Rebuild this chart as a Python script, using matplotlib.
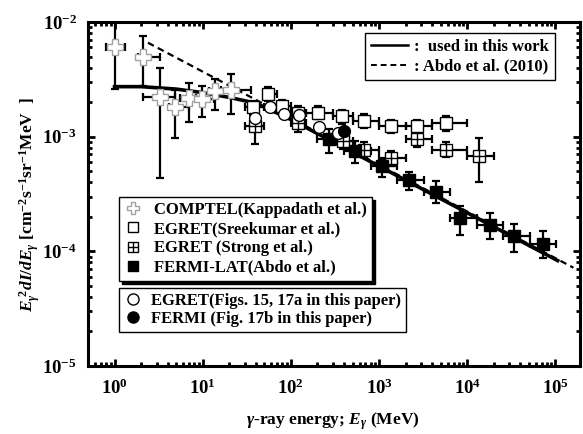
import matplotlib
matplotlib.use("Agg")
import matplotlib.pyplot as plt
from matplotlib.lines import Line2D
import numpy as np

plt.rcParams['font.family'] = ['Liberation Serif', 'DejaVu Serif']
plt.rcParams['font.weight'] = 'bold'
plt.rcParams['mathtext.fontset'] = 'custom'
plt.rcParams['mathtext.rm'] = 'Liberation Serif:bold'
plt.rcParams['mathtext.bf'] = 'Liberation Serif:bold'
plt.rcParams['mathtext.it'] = 'Liberation Serif:italic:bold'

# ---------------- data ----------------
comptel_x = [1.0, 2.13, 3.24, 4.88, 6.9, 9.77, 13.8, 20.7]
comptel_y = [6.1e-3, 4.99e-3, 2.24e-3, 1.81e-3, 2.17e-3, 2.14e-3, 2.51e-3, 2.53e-3]
comptel_xlo = [0.79, 1.84, 2.13, 4.1, 5.5, 8.4, 11.8, 16.1]
comptel_xhi = [1.33, 3.24, 4.9, 6.9, 8.4, 13.6, 16.1, 35.5]
comptel_ylo = [2.6e-3, 2.77e-3, 4.4e-4, 9.7e-4, 1.33e-3, 1.47e-3, 1.72e-3, 1.57e-3]
comptel_yhi = [1.2e-2, 7.6e-3, 4.0e-3, 2.56e-3, 2.96e-3, 2.77e-3, 3.19e-3, 3.53e-3]

sreek_x = [37, 55.7, 79, 120, 202, 378, 683, 1371, 2704, 5767]
sreek_y = [1.80e-3, 2.35e-3, 1.84e-3, 1.62e-3, 1.62e-3, 1.50e-3, 1.38e-3, 1.23e-3, 1.23e-3, 1.31e-3]
sreek_xlo = [30, 50, 70, 100, 150, 300, 500, 1000, 2000, 4000]
sreek_xhi = [50, 70, 100, 150, 300, 500, 1000, 2000, 4000, 10000]
sreek_ylo = [1.55e-3, 2.05e-3, 1.6e-3, 1.42e-3, 1.43e-3, 1.30e-3, 1.20e-3, 1.08e-3, 1.08e-3, 1.12e-3]
sreek_yhi = [2.05e-3, 2.7e-3, 2.1e-3, 1.84e-3, 1.84e-3, 1.70e-3, 1.58e-3, 1.40e-3, 1.40e-3, 1.50e-3]

strong_x = [39.4, 120, 387, 683, 1371, 2704, 5767, 13700]
strong_y = [1.23e-3, 1.31e-3, 9.1e-4, 7.7e-4, 6.5e-4, 9.5e-4, 7.6e-4, 6.84e-4]
strong_xlo = [30, 100, 300, 500, 1000, 2000, 4000, 10000]
strong_xhi = [50, 150, 500, 1000, 2000, 4000, 10000, 20000]
strong_ylo = [8.7e-4, 1.1e-3, 7.8e-4, 6.6e-4, 5.6e-4, 8.2e-4, 6.7e-4, 4.0e-4]
strong_yhi = [1.46e-3, 1.5e-3, 1.05e-3, 8.9e-4, 7.5e-4, 1.08e-3, 8.9e-4, 9.7e-4]

fermi_x = [267, 540, 1083, 2170, 4440, 8370, 17900, 34300, 73100]
fermi_y = [9.6e-4, 7.55e-4, 5.6e-4, 4.2e-4, 3.28e-4, 1.94e-4, 1.68e-4, 1.36e-4, 1.17e-4]
fermi_xlo = [200, 400, 800, 1600, 3200, 6400, 12800, 25600, 51200]
fermi_xhi = [400, 800, 1600, 3200, 6400, 12800, 25600, 51200, 102400]
fermi_ylo = [7.2e-4, 5.9e-4, 4.47e-4, 3.41e-4, 2.65e-4, 1.38e-4, 1.27e-4, 9.9e-5, 8.8e-5]
fermi_yhi = [1.17e-3, 9.1e-4, 6.4e-4, 4.9e-4, 4.08e-4, 2.51e-4, 2.14e-4, 1.72e-4, 1.50e-4]

egret_paper_x = [38.7, 58.2, 82.5, 122, 211, 340]
egret_paper_y = [1.46e-3, 1.80e-3, 1.57e-3, 1.53e-3, 1.21e-3, 1.08e-3]

fermi_paper_x = [405]
fermi_paper_y = [1.12e-3]

model_x = [1.0, 2.0, 5.0, 10.0, 20.0, 40.0, 100.0, 1.06e5]
model_y = [2.73e-3, 2.73e-3, 2.6e-3, 2.42e-3, 2.2e-3, 1.96e-3, 1.41e-3, 8.3e-5]

abdo_x = [2.39, 1.6e5]
abdo_y = [6.6e-3, 7.2e-5]

# ---------------- figure ----------------
fig = plt.figure(figsize=(5.83, 4.34), dpi=100)
ax = fig.add_axes([88/583, 1-366/434, 492/583, 344/434])
ax.set_xscale('log')
ax.set_yscale('log')
ax.set_xlim(0.5, 1.9e5)
ax.set_ylim(1e-5, 1e-2)


def ebar(x, y, xlo, xhi, ylo, yhi):
    x = np.array(x); y = np.array(y)
    xerr = [x - np.array(xlo), np.array(xhi) - x]
    yerr = [y - np.array(ylo), np.array(yhi) - y]
    ax.errorbar(x, y, xerr=xerr, yerr=yerr, fmt='none', ecolor='black',
                elinewidth=1.6, capsize=3, capthick=1.6, zorder=2)

ebar(comptel_x, comptel_y, comptel_xlo, comptel_xhi, comptel_ylo, comptel_yhi)
ebar(sreek_x, sreek_y, sreek_xlo, sreek_xhi, sreek_ylo, sreek_yhi)
ebar(strong_x, strong_y, strong_xlo, strong_xhi, strong_ylo, strong_yhi)
ebar(fermi_x, fermi_y, fermi_xlo, fermi_xhi, fermi_ylo, fermi_yhi)

ax.plot(abdo_x, abdo_y, color='black', lw=1.6, ls=(0, (3, 2)), zorder=3)
ax.plot(model_x, model_y, color='black', lw=2.6, zorder=3)

ax.plot(comptel_x, comptel_y, ls='none', marker='P', ms=11, mfc='white',
        mec='#a0a0a0', mew=1.0, zorder=4)
ax.plot(sreek_x, sreek_y, ls='none', marker='s', ms=8, mfc='white',
        mec='black', mew=1.0, zorder=4)
ax.plot(strong_x, strong_y, ls='none', marker='s', ms=8, mfc='white',
        mec='black', mew=1.0, zorder=4)
ax.plot(strong_x, strong_y, ls='none', marker='+', ms=8, mec='black',
        mew=1.0, zorder=5)
ax.plot(fermi_x, fermi_y, ls='none', marker='s', ms=8, mfc='black',
        mec='black', zorder=4)
ax.plot(egret_paper_x, egret_paper_y, ls='none', marker='o', ms=8.5,
        mfc='white', mec='black', mew=1.0, zorder=6)
ax.plot(fermi_paper_x, fermi_paper_y, ls='none', marker='o', ms=8.5,
        mfc='black', mec='black', zorder=6)

# axes styling
for s in ax.spines.values():
    s.set_linewidth(2.2)
ax.tick_params(which='both', direction='in', top=True, right=True)
ax.tick_params(which='major', length=5, width=2, labelsize=13.5)
ax.tick_params(axis='x', which='major', pad=9)
ax.tick_params(axis='y', which='major', pad=8)
ax.tick_params(which='minor', length=3, width=2)
ax.set_xticks([1, 10, 100, 1e3, 1e4, 1e5])
ax.set_xticklabels([r'$10^{0}$', r'$10^{1}$', r'$10^{2}$', r'$10^{3}$',
                    r'$10^{4}$', r'$10^{5}$'])
ax.set_yticks([1e-5, 1e-4, 1e-3, 1e-2])
ax.set_yticklabels([r'$10^{-5}$', r'$10^{-4}$', r'$10^{-3}$', r'$10^{-2}$'])

ax.set_xlabel(r'$\gamma$-ray energy; $E_\gamma$ (MeV)', fontsize=12.5,
              fontweight='bold')
ax.xaxis.set_label_coords((333 - 88) / 492, -(410 - 366) / 344)
ax.set_ylabel(r'$E_\gamma^{\ 2}dI/dE_\gamma$ $\mathrm{[cm^{-2}s^{-1}sr^{-1}MeV\ \ ]}$',
              fontsize=12.5, fontweight='bold')
ax.yaxis.set_label_coords(-(88 - 43) / 492, (366 - 205) / 344)

LFONT = {'family': 'Liberation Serif', 'weight': 'bold', 'size': 12}

# legends
h1 = [Line2D([], [], color='black', lw=1.8),
      Line2D([], [], color='black', lw=1.4, ls=(0, (3, 2)))]
leg1 = ax.legend(h1, [':  used in this work', ': Abdo et al. (2010)'],
                 loc='upper right', bbox_to_anchor=(0.949, 0.967),
                 borderaxespad=0, fancybox=False, edgecolor='black',
                 framealpha=1, handlelength=2.2, handletextpad=0.4,
                 labelspacing=0.2, borderpad=0.35, prop=LFONT)
leg1.get_frame().set_linewidth(1.0)
ax.add_artist(leg1)

h2 = [Line2D([], [], ls='none', marker='P', ms=8, mfc='white', mec='#a0a0a0'),
      Line2D([], [], ls='none', marker='s', ms=7, mfc='white', mec='black'),
      (Line2D([], [], ls='none', marker='s', ms=7, mfc='white', mec='black'),
       Line2D([], [], ls='none', marker='+', ms=7, mec='black')),
      Line2D([], [], ls='none', marker='s', ms=7, mfc='black', mec='black')]
leg2 = ax.legend(h2, ['COMPTEL(Kappadath et al.)', 'EGRET(Sreekumar et al.)',
                      'EGRET (Strong et al.)', 'FERMI-LAT(Abdo et al.)'],
                 loc='upper left', bbox_to_anchor=(0.0636, 0.492),
                 borderaxespad=0, fancybox=False, edgecolor='black',
                 framealpha=1, handlelength=1.0, handletextpad=0.8,
                 labelspacing=0.2, borderpad=0.3,
                 shadow={'color': 'black', 'alpha': 1.0}, prop=LFONT)
leg2.get_frame().set_linewidth(1.0)
ax.add_artist(leg2)

h3 = [Line2D([], [], ls='none', marker='o', ms=8, mfc='white', mec='black'),
      Line2D([], [], ls='none', marker='o', ms=8, mfc='black', mec='black')]
leg3 = ax.legend(h3, ['EGRET(Figs. 15, 17a in this paper)',
                      'FERMI (Fig. 17b in this paper)'],
                 loc='upper left', bbox_to_anchor=(0.0636, 0.226),
                 borderaxespad=0, fancybox=False, edgecolor='black',
                 framealpha=1, handlelength=1.0, handletextpad=0.6,
                 labelspacing=0.12, borderpad=0.3, prop=LFONT)
leg3.get_frame().set_linewidth(1.0)

fig.savefig('out.png', dpi=100)
